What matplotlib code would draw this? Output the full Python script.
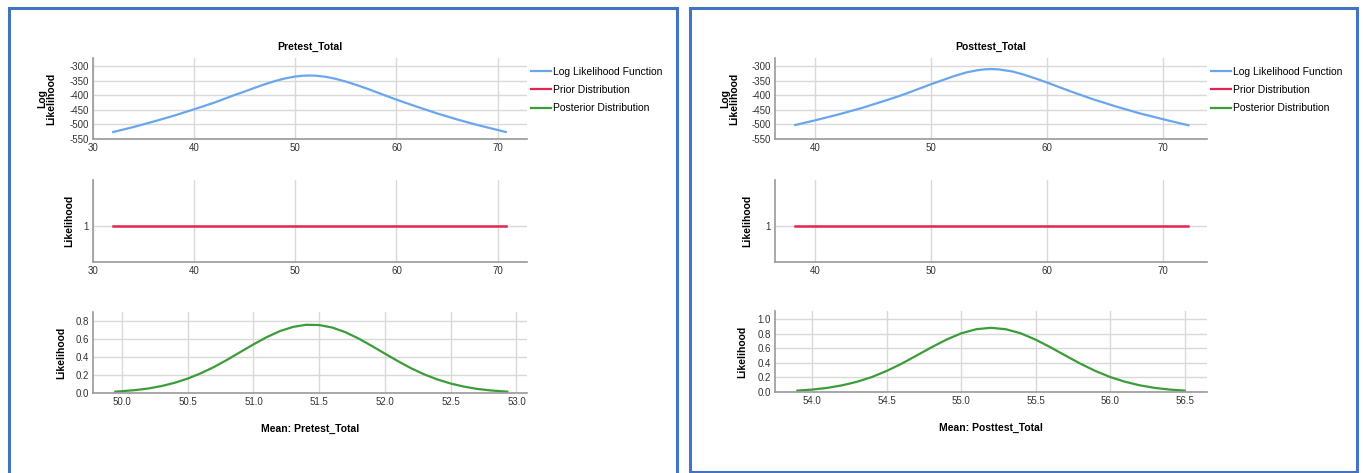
import matplotlib.pyplot as plt
from matplotlib.patches import Rectangle
from matplotlib.lines import Line2D

plt.rcParams['font.family'] = ['Liberation Sans', 'DejaVu Sans']
plt.rcParams['axes.unicode_minus'] = False

BLUE = '#6aa6ee'
RED = '#e3264f'
GREEN = '#3d9c3a'
GRID = '#d9d9d9'
SPINE = '#9a9a9a'

# ---- Pretest_Total ----
pre_ll_x = [32, 34, 36, 38, 40, 42, 44, 45, 46, 47, 48, 49, 50, 50.7, 51.4,
            52, 53, 54, 55, 56, 57, 58, 59, 60, 62, 64, 66, 68, 70, 70.8]
pre_ll_y = [-526, -509, -490, -470, -448, -425, -399, -387, -374, -362, -351,
            -342, -335.5, -333, -332, -332.7, -336.6, -343.6, -353, -364,
            -376, -389, -402, -415, -439, -462, -483, -502, -519, -526]
pre_prior_x = [32, 70.8]
pre_prior_y = [1, 1]
pre_post_x = [49.95, 50.0, 50.1, 50.2, 50.3, 50.4, 50.5, 50.6, 50.7, 50.8,
              50.9, 51.0, 51.1, 51.2, 51.3, 51.4, 51.5, 51.6, 51.7, 51.8,
              51.9, 52.0, 52.1, 52.2, 52.3, 52.4, 52.5, 52.6, 52.7, 52.8,
              52.9, 52.93]
pre_post_y = [0.015, 0.020, 0.032, 0.050, 0.077, 0.113, 0.160, 0.219, 0.289,
              0.369, 0.455, 0.540, 0.620, 0.687, 0.734, 0.758, 0.755, 0.727,
              0.675, 0.605, 0.523, 0.437, 0.353, 0.274, 0.206, 0.150, 0.105,
              0.071, 0.046, 0.029, 0.018, 0.015]

# ---- Posttest_Total ----
post_ll_x = [38.3, 40, 42, 44, 46, 47, 48, 49, 50, 51, 52, 53, 54, 54.6,
             55.2, 55.8, 56, 57, 58, 59, 60, 61, 62, 63, 64, 66, 68, 70, 72.2]
post_ll_y = [-502, -486, -466, -444, -419, -406, -392, -377, -362, -348,
             -334, -322, -314, -311, -310, -311, -312, -318, -329, -342,
             -356, -371, -386, -400, -414, -439, -462, -482, -503]
post_prior_x = [38.3, 72.2]
post_prior_y = [1, 1]
post_post_x = [53.9, 54.0, 54.1, 54.2, 54.3, 54.4, 54.5, 54.6, 54.7, 54.8,
               54.9, 55.0, 55.1, 55.2, 55.3, 55.4, 55.5, 55.6, 55.7, 55.8,
               55.9, 56.0, 56.1, 56.2, 56.3, 56.4, 56.5]
post_post_y = [0.019, 0.033, 0.056, 0.091, 0.140, 0.205, 0.289, 0.388, 0.499,
               0.612, 0.717, 0.804, 0.860, 0.880, 0.860, 0.804, 0.717, 0.612,
               0.499, 0.388, 0.289, 0.205, 0.140, 0.091, 0.056, 0.033, 0.019]

ll_ticks = [-300, -350, -400, -450, -500, -550]
pre_xticks = [30, 40, 50, 60, 70]
post_xticks = [40, 50, 60, 70]
pre_post_ticks = [50.0, 50.5, 51.0, 51.5, 52.0, 52.5, 53.0]
post_post_ticks = [54.0, 54.5, 55.0, 55.5, 56.0, 56.5]

legend_labels = ['Log Likelihood Function', 'Prior Distribution',
                 'Posterior Distribution']

W, H = 1363, 473
fig = plt.figure(figsize=(W / 100, H / 100), dpi=100)


def px_axes(left, top, right, bottom):
    return fig.add_axes([left / W, 1 - bottom / H, (right - left) / W,
                         (bottom - top) / H])


def style(ax, xlim, xticks, ylim, yticks, yfmt=None):
    ax.set_xlim(*xlim)
    ax.set_ylim(*ylim)
    ax.set_xticks(xticks)
    ax.set_yticks(yticks)
    if yfmt:
        ax.set_yticklabels([yfmt.format(v) for v in yticks])
    ax.grid(True, color=GRID, linewidth=1)
    ax.set_axisbelow(True)
    for s in ['top', 'right']:
        ax.spines[s].set_visible(False)
    for s in ['left', 'bottom']:
        ax.spines[s].set_color(SPINE)
        ax.spines[s].set_linewidth(1.2)
    ax.tick_params(length=0, labelsize=7, colors='#333333', pad=3)


def ylab(ax, text, px, left, right):
    ax.set_ylabel(text, fontsize=7.5, fontweight='bold', va='center',
                  linespacing=0.9)
    ax.yaxis.set_label_coords((px - left) / (right - left), 0.5)


def panel(left, right, title, ll_x, ll_y, pr_x, pr_y, po_x, po_y,
          xlim, xticks, pxlim, pxticks, pylim, pyticks, xlabel,
          lab_px, bot_top, bot_bottom, leg_x):
    ax1 = px_axes(left, 58, right, 139)
    ax1.plot(ll_x, ll_y, color=BLUE, linewidth=1.6)
    style(ax1, xlim, xticks, (-550, -272), ll_ticks)
    ax1.set_title(title, fontsize=7.5, fontweight='bold', pad=6)
    ylab(ax1, 'Log\nLikelihood', lab_px[0], left, right)

    ax2 = px_axes(left, 180, right, 262)
    ax2.plot(pr_x, pr_y, color=RED, linewidth=1.8)
    style(ax2, xlim, xticks, (0.56, 1.56), [1])
    ylab(ax2, 'Likelihood', lab_px[1], left, right)

    ax3 = px_axes(left, bot_top, right, bot_bottom)
    ax3.plot(po_x, po_y, color=GREEN, linewidth=1.6)
    style(ax3, pxlim, pxticks, pylim, pyticks, '{:.1f}')
    ax3.set_xticklabels(['{:.1f}'.format(v) for v in pxticks])
    ylab(ax3, 'Likelihood', lab_px[2], left, right)
    ax3.set_xlabel(xlabel, fontsize=7.5, fontweight='bold', labelpad=12)

    handles = [Line2D([], [], color=c, linewidth=1.6)
               for c in (BLUE, RED, GREEN)]
    fig.legend(handles, legend_labels, loc='upper left',
               bbox_to_anchor=(leg_x / W, 1 - 67 / H), frameon=False,
               fontsize=7.5, handlelength=1.9, handletextpad=0.25,
               labelspacing=0.78, borderpad=0, borderaxespad=0)


panel(93, 527, 'Pretest_Total', pre_ll_x, pre_ll_y, pre_prior_x, pre_prior_y,
      pre_post_x, pre_post_y, (30, 72.9), pre_xticks, (49.78, 53.08),
      pre_post_ticks, (0, 0.9), [0.0, 0.2, 0.4, 0.6, 0.8],
      'Mean: Pretest_Total', (47, 69, 61), 312, 393, 531)

panel(775, 1207, 'Posttest_Total', post_ll_x, post_ll_y, post_prior_x,
      post_prior_y, post_post_x, post_post_y, (36.55, 73.8), post_xticks,
      (53.75, 56.65), post_post_ticks, (0, 1.11),
      [0.0, 0.2, 0.4, 0.6, 0.8, 1.0], 'Mean: Posttest_Total',
      (730, 747, 742), 311, 392, 1211)

# blue frames around the two panels
border = '#4472c4'
fig.patches.append(Rectangle((8.5 / W, -0.05), 668 / W, (464.5 / H) + 0.05,
                             transform=fig.transFigure, fill=False,
                             edgecolor=border, linewidth=2.2))
fig.patches.append(Rectangle((689.5 / W, 1.5 / H), 667 / W, 463 / H,
                             transform=fig.transFigure, fill=False,
                             edgecolor=border, linewidth=2.2))

fig.savefig('out.png', dpi=100)
